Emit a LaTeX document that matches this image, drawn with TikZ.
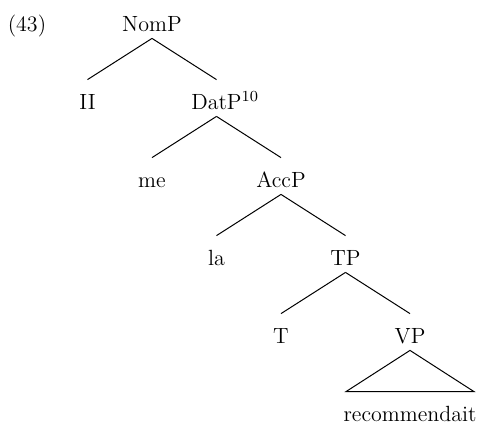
\documentclass[tikz,border=0pt]{standalone}
\usepackage{tikz}
\usetikzlibrary{positioning}
\tikzstyle{cat}=[%
      rectangle, draw=none, fill=none, font=\fontsize{11}{13}\selectfont,
      text height=11pt, text depth=0pt, inner xsep=1pt, inner ysep=3.5pt
]
\tikzstyle{br}=[%
      draw=black, line width=0.5pt
]

\begin{document}
\begin{tikzpicture}[on grid]
    \useasboundingbox (0,0) rectangle (240.5pt,-212pt);
    \node[cat]   (NomP)  at (76pt,-10pt) {NomP};
    \node[cat]   (ex)   [left = 62.5pt of NomP] {(43)};
    \node[cat]   (II)   [below left = 39pt and 32.25pt of NomP] {II};
    \node[cat]   (DatP) [below right = 39pt and 32.25pt of NomP] {DatP\rlap{\textsuperscript{10}}};
    \node[cat]   (me)   [below left = 39pt and 32.25pt of DatP] {me};
    \node[cat]   (AccP) [below right = 39pt and 32.25pt of DatP] {AccP};
    \node[cat]   (la)   [below left = 39pt and 32.25pt of AccP] {la};
    \node[cat]   (TP)   [below right = 39pt and 32.25pt of AccP] {TP};
    \node[cat]   (T)    [below left = 39pt and 32.25pt of TP] {T};
    \node[cat]   (VP)   [below right = 39pt and 32.25pt of TP] {VP};
    \node[cat]   (rec)  [below = 39pt of VP] {recommendait};

    \draw[br] (NomP.south) -- (II.north);
    \draw[br] (NomP.south) -- (DatP.north);
    \draw[br] (DatP.south) -- (me.north);
    \draw[br] (DatP.south) -- (AccP.north);
    \draw[br] (AccP.south) -- (la.north);
    \draw[br] (AccP.south) -- (TP.north);
    \draw[br] (TP.south) -- (T.north);
    \draw[br] (TP.south) -- (VP.north);
    % roof over the VP
    \draw[br] (VP.south) -- ([xshift=-32pt]rec.north) -- ([xshift=32pt]rec.north) -- cycle;
\end{tikzpicture}
\end{document}
